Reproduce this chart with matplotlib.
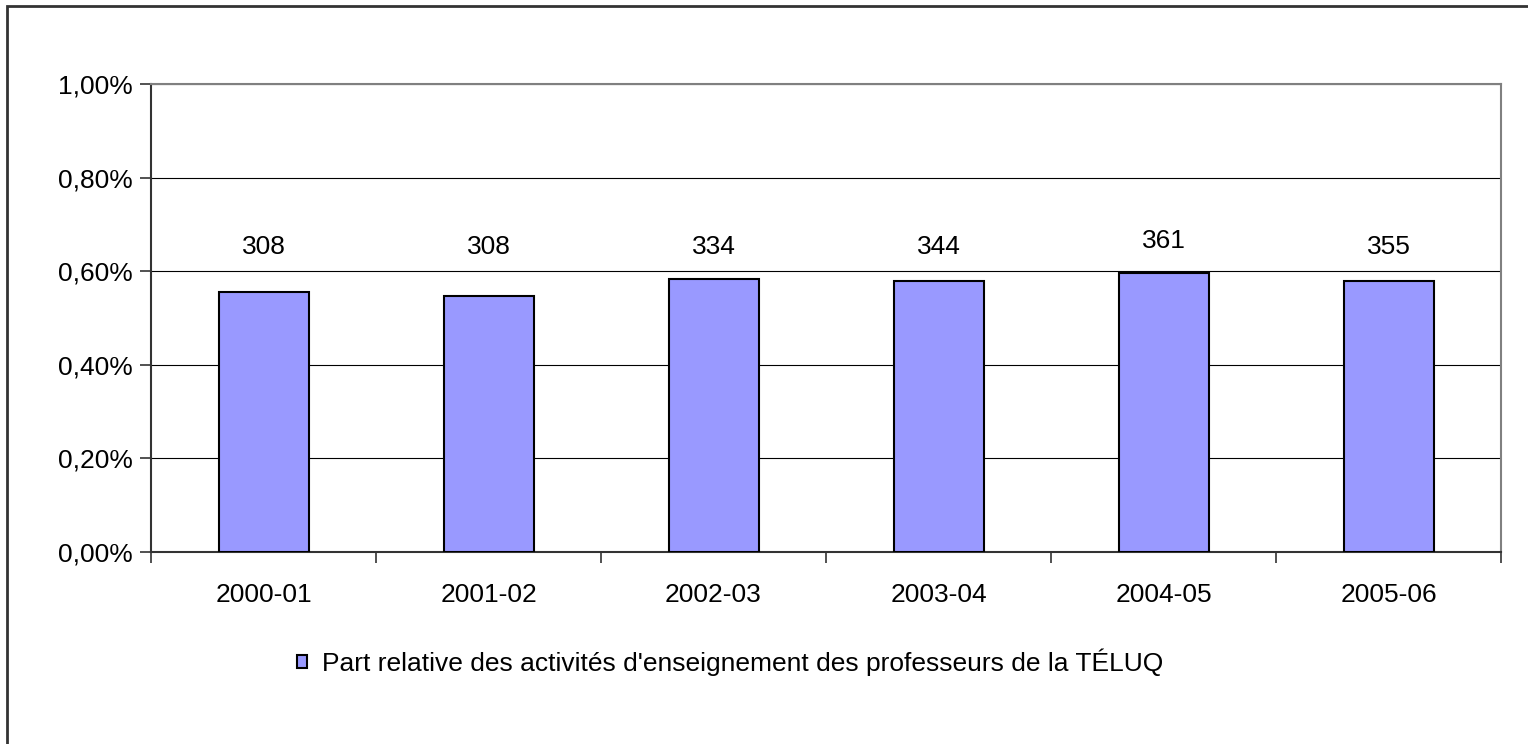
import matplotlib
matplotlib.use('Agg')
import matplotlib.pyplot as plt
from matplotlib.patches import Rectangle
from matplotlib.ticker import FuncFormatter, FixedLocator
import numpy as np

plt.rcParams['font.family'] = ['Liberation Sans', 'DejaVu Sans']

years = ['2000-01', '2001-02', '2002-03', '2003-04', '2004-05', '2005-06']
share_pct = [0.556, 0.548, 0.583, 0.579, 0.597, 0.579]
counts = ['308', '308', '334', '344', '361', '355']
legend_label = "Part relative des activités d'enseignement des professeurs de la TÉLUQ"

fs = 19

fig = plt.figure(figsize=(15.28, 7.44), dpi=100)
ax = fig.add_axes([151/1528, 1 - 552/744, 1350/1528, 468/744])

x = np.arange(len(years))
bars = ax.bar(x, share_pct, width=0.4, color='#9999FF', edgecolor='black',
              linewidth=1.5, label=legend_label, zorder=3)

# count labels above bars
for xi, v, c in zip(x, share_pct, counts):
    ax.annotate(c, (xi, max(v, 0.585)), xytext=(0, 14), textcoords='offset points',
                ha='center', va='bottom', fontsize=fs)

ax.set_xlim(-0.5, len(years) - 0.5)
ax.set_ylim(0, 1.0)
ax.set_yticks(np.arange(0, 1.01, 0.2))
ax.yaxis.set_major_formatter(FuncFormatter(lambda v, p: f'{v:.2f}%'.replace('.', ',')))
ax.set_xticks(x)
ax.set_xticklabels(years)
ax.xaxis.set_minor_locator(FixedLocator(np.arange(-0.5, len(years), 1.0)))
ax.tick_params(axis='x', which='major', length=0, pad=22, labelsize=fs)
ax.tick_params(axis='x', which='minor', length=8, width=1.2, color='#333333')
ax.tick_params(axis='y', length=8, width=1.2, color='#333333', labelsize=fs, pad=5)

ax.yaxis.grid(True, color='black', linewidth=0.8, zorder=0)
ax.spines['left'].set_color('#333333')
ax.spines['left'].set_linewidth(1.5)
ax.spines['bottom'].set_color('#333333')
ax.spines['bottom'].set_linewidth(1.5)
ax.spines['top'].set_color('#808080')
ax.spines['top'].set_linewidth(1.5)
ax.spines['right'].set_color('#808080')
ax.spines['right'].set_linewidth(1.5)

fig.legend(handles=[bars], labels=[legend_label], loc='center left',
           bbox_to_anchor=(297/1528, 1 - 662/744), frameon=False, fontsize=fs,
           borderaxespad=0, borderpad=0,
           handlelength=0.36, handleheight=0.36, handletextpad=0.6)

# outer chart frame
fig.patches.append(Rectangle((7/1528, -0.01), 1.0, 1 - 6/744 + 0.01,
                             transform=fig.transFigure, fill=False,
                             edgecolor='#333333', linewidth=2))

fig.savefig('out.png', dpi=100)
